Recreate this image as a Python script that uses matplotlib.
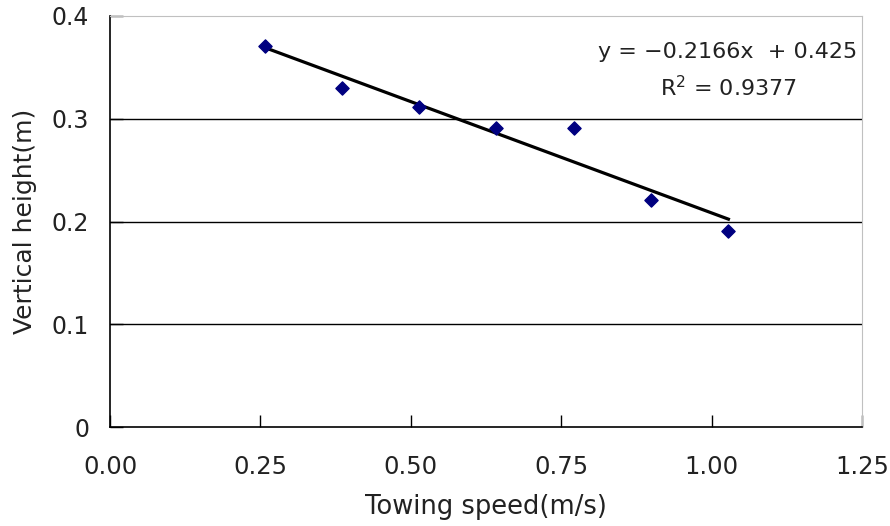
import numpy as np
import matplotlib.pyplot as plt

plt.rcParams['font.family'] = ['DejaVu Sans']

# data
speed = [0.257, 0.385, 0.514, 0.642, 0.771, 0.899, 1.028]
height = [0.371, 0.330, 0.311, 0.291, 0.291, 0.221, 0.191]
x_ticks = [0.00, 0.25, 0.50, 0.75, 1.00, 1.25]
y_ticks = [0, 0.1, 0.2, 0.3, 0.4]
y_labels = ['0', '0.1', '0.2', '0.3', '0.4']
slope, intercept = -0.2166, 0.425

fig = plt.figure(figsize=(8.9, 5.26), dpi=100)
ax = fig.add_axes([0.1236, 0.188, 0.8449, 0.7816])

for v in y_ticks[1:4]:
    ax.axhline(v, color='black', lw=1.0, zorder=1)

ax.scatter(speed, height, marker='D', s=45, color='#000080', zorder=3)
xs = np.array([speed[0], speed[-1]])
ax.plot(xs, slope * xs + intercept, color='black', lw=2.3, zorder=2)

ax.text(0.994, 0.912, 'y = \u22120.2166x  + 0.425', transform=ax.transAxes,
        ha='right', va='center', fontsize=16, color='#222222')
ax.text(0.822, 0.825, 'R$^2$ = 0.9377', transform=ax.transAxes,
        ha='center', va='center', fontsize=16, color='#222222')

ax.set_xlim(0, 1.25)
ax.set_ylim(0, 0.4)
ax.set_xticks(x_ticks)
ax.set_xticklabels(['%.2f' % v for v in x_ticks], fontsize=17.5)
ax.set_yticks(y_ticks)
ax.set_yticklabels(y_labels, fontsize=17)
ax.tick_params(axis='both', direction='in', length=9, width=1, colors='black')
ax.tick_params(axis='x', pad=20, labelcolor='#222222')
ax.tick_params(axis='y', pad=15, labelcolor='#222222')

ax.spines['top'].set_color('#c0c0c0')
ax.spines['right'].set_color('#c0c0c0')
for s in ['left', 'bottom']:
    ax.spines[s].set_linewidth(1.2)

ax.set_xlabel('Towing speed(m/s)', fontsize=18.5, labelpad=11, color='#222222')
ax.set_ylabel('Vertical height(m)', fontsize=18, labelpad=11, color='#222222')

fig.savefig('out.png', dpi=100)
